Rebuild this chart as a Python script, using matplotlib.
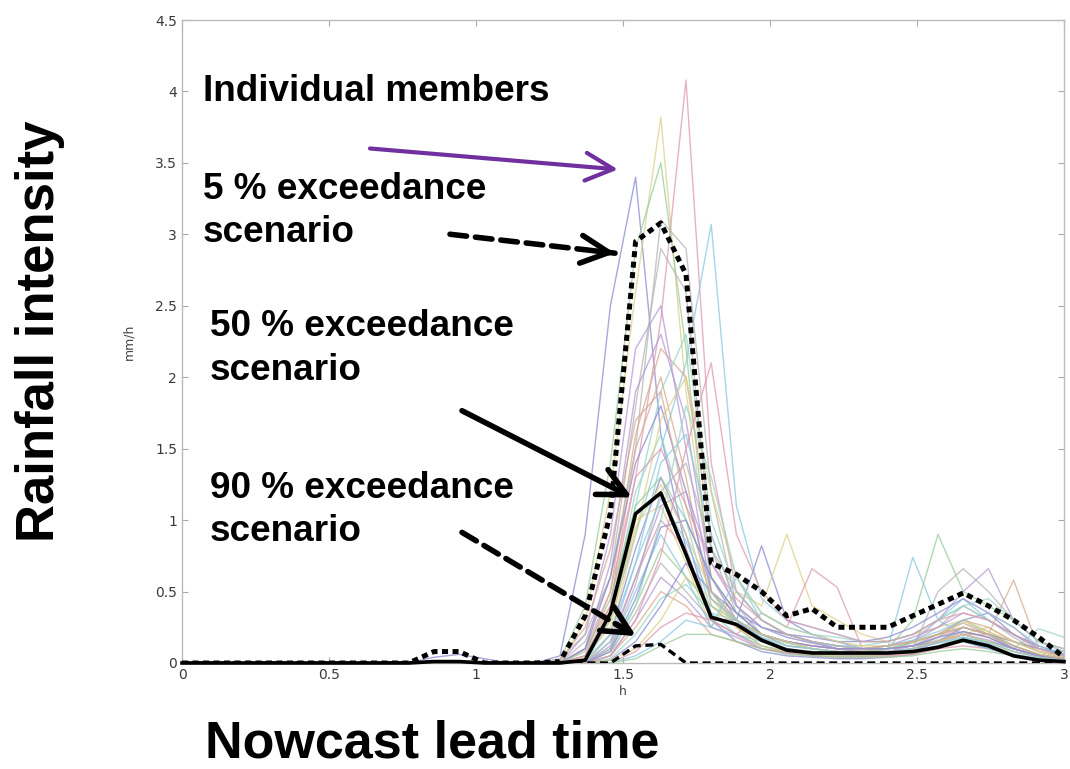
import numpy as np
import matplotlib
matplotlib.use("Agg")
import matplotlib.pyplot as plt

# ---------------- data ----------------
lead_time_h = np.linspace(0, 3, 36)          # 36 nowcast steps over 3 h

# values before the rain event (steps 0..13) are zero for most members
zeros_early = [0.0] * 14

# individual ensemble members, steps 14..35
members_late = [
    [0, .05, .9, 2.5, 3.40, 1.6, .8, .3, .15, .08, .05, .04, .03, .03, .04, .06, .1, .15, .1, .05, .02, .01],
    [0, 0, .3, 1.2, 2.6, 3.82, 1.9, .6, .3, .15, .1, .08, .06, .05, .05, .08, .12, .2, .25, .15, .08, .05],
    [0, 0, .1, .5, 1.3, 2.4, 4.08, 1.4, .5, .3, .2, .15, .1, .1, .12, .15, .2, .3, .35, .25, .1, .05],
    [0, 0, .05, .3, .9, 1.5, 2.1, 3.07, 1.1, .45, .3, .25, .2, .15, .15, .2, .3, .45, .3, .2, .1, .08],
    [0, .02, .4, 1.4, 2.9, 3.5, 2.2, .5, .25, .12, .08, .06, .05, .05, .06, .1, .18, .3, .22, .12, .06, .03],
    [0, 0, .15, .6, 1.8, 2.9, 2.6, .8, .35, .2, .12, .1, .08, .08, .1, .15, .25, .4, .3, .18, .08, .04],
    [0, 0, .2, .9, 2.2, 2.5, 1.5, .5, .3, .2, .15, .12, .1, .08, .08, .12, .2, .28, .2, .1, .05, .02],
    [0, 0, .1, .4, 1.5, 2.0, 1.3, .4, .25, .15, .1, .08, .07, .06, .07, .1, .15, .22, .18, .1, .05, .02],
    [0, 0, .05, .35, 1.2, 1.6, 1.0, .35, .3, .18, .1, .07, .06, .06, .06, .08, .12, .18, .14, .08, .04, .02],
    [0, 0, 0, .2, .8, 1.3, .9, .3, .3, .82, .3, .2, .15, .1, .1, .12, .15, .2, .15, .1, .05, .03],
    [0, 0, .05, .25, 1.0, 1.1, .7, .25, .5, .4, .9, .4, .3, .2, .15, .2, .25, .3, .2, .15, .1, .05],
    [0, 0, 0, .15, .6, 1.0, .8, .3, .2, .35, .25, .66, .53, .1, .08, .1, .15, .2, .15, .1, .05, .02],
    [0, 0, 0, .1, .5, .9, .6, .25, .2, .15, .1, .08, .06, .05, .1, .74, .3, .2, .15, .1, .05, .03],
    [0, 0, 0, .1, .4, .8, .6, .4, .3, .2, .15, .1, .08, .08, .1, .3, .9, .5, .4, .3, .15, .1],
    [0, 0, 0, .08, .35, .7, .5, .3, .2, .12, .08, .06, .05, .05, .06, .1, .5, .66, .5, .3, .15, .1],
    [0, 0, 0, .05, .3, .6, .45, .25, .18, .1, .07, .05, .05, .05, .07, .15, .3, .5, .66, .3, .15, .08],
    [0, 0, 0, .05, .25, .5, .4, .2, .15, .1, .08, .06, .05, .05, .06, .1, .15, .2, .2, .58, .1, .05],
    [0, 0, 0, .03, .2, .45, .55, .35, .2, .12, .08, .06, .05, .05, .05, .08, .12, .18, .15, .1, .24, .18],
    [0, 0, 0, .02, .15, .4, .7, .5, .3, .15, .1, .07, .06, .05, .06, .08, .15, .25, .2, .15, .1, .06],
    [0, 0, 0, .02, .1, .3, .6, .45, .25, .12, .08, .06, .05, .05, .05, .07, .1, .15, .12, .08, .05, .02],
    [0, 0, 0, 0, .08, .25, .35, .3, .2, .1, .07, .05, .04, .04, .05, .06, .1, .12, .1, .06, .03, .01],
    [0, 0, 0, 0, .05, .15, .3, .25, .6, .3, .2, .15, .1, .08, .06, .08, .12, .15, .1, .06, .03, .01],
    [0, 0, 0, 0, .03, .12, .2, .2, .15, .1, .06, .05, .04, .04, .04, .05, .08, .1, .08, .05, .03, .01],
    [0, .03, .2, .6, 1.5, 3.1, 2.9, 1.2, .4, .2, .12, .1, .08, .06, .07, .1, .15, .25, .2, .1, .05, .02],
    [0, 0, .1, .7, 1.9, 2.3, 1.7, .6, .3, .2, .15, .12, .1, .1, .12, .18, .25, .35, .3, .2, .1, .05],
    [0, 0, .05, .5, 1.6, 2.2, 2.0, .9, .4, .25, .2, .15, .12, .1, .12, .15, .2, .3, .25, .15, .08, .04],
    [0, 0, 0, .3, 1.1, 1.9, 2.3, 1.0, .5, .3, .2, .15, .12, .12, .15, .2, .3, .4, .3, .2, .1, .05],
    [0, 0, .1, .6, 1.4, 1.8, 1.2, .5, .35, .25, .2, .18, .15, .15, .18, .25, .35, .45, .35, .2, .12, .06],
    [0, 0, 0, .2, .9, 1.7, 2.0, 1.2, .6, .35, .25, .2, .15, .12, .12, .15, .2, .28, .22, .15, .08, .04],
    [0, 0, .05, .4, 1.3, 1.5, 1.1, .7, .45, .3, .2, .15, .12, .1, .1, .12, .18, .25, .2, .12, .06, .03],
    [0, 0, 0, .15, .7, 1.4, 1.6, .9, .4, .25, .18, .14, .12, .1, .12, .16, .22, .3, .35, .25, .12, .06],
    [0, 0, .08, .45, 1.1, 1.3, 1.0, .6, .35, .2, .14, .1, .08, .08, .1, .14, .2, .25, .2, .12, .06, .03],
    [0, 0, 0, .1, .55, 1.2, 1.4, .8, .5, .3, .2, .15, .12, .1, .1, .12, .16, .22, .18, .1, .05, .02],
    [0, 0, 0, .12, .6, 1.1, 1.2, .7, .4, .25, .18, .14, .1, .08, .08, .1, .14, .2, .16, .1, .05, .02],
    [0, .02, .25, .8, 1.7, 1.9, 1.1, .45, .3, .2, .15, .12, .1, .1, .12, .15, .2, .25, .2, .12, .06, .03],
    [0, 0, 0, .05, .4, 1.0, 1.8, 1.3, .6, .35, .25, .2, .18, .15, .15, .2, .3, .4, .45, .3, .15, .08],
    [0, 0, 0, .08, .45, .95, 1.0, .6, .35, .2, .15, .12, .1, .1, .1, .12, .18, .22, .18, .1, .05, .02],
    [0, 0, .03, .3, .95, 1.25, .9, .5, .3, .2, .15, .1, .08, .08, .08, .1, .15, .2, .15, .08, .04, .02],
    [0, 0, 0, .05, .3, .75, 1.5, 2.1, .9, .5, .3, .25, .2, .15, .15, .2, .3, .35, .3, .2, .1, .05],
    [0, 0, .02, .2, .7, 1.15, .85, .45, .3, .18, .12, .1, .08, .07, .08, .1, .14, .18, .14, .08, .04, .02],
]
# one member with a small early shower near 0.9 h (steps 0..13)
early_shower_member = [0, 0, 0, 0, 0, 0, 0, 0, 0, 0, .04, .06, .03, 0]

exceed_05 = [0, 0, 0, 0, 0, 0, 0, 0, 0, 0, .08, .08, 0, 0, 0, .01, .33, 1.05, 2.95, 3.08,
             2.72, .7, .62, .5, .33, .38, .25, .25, .25, .33, .41, .49, .4, .3, .18, .04]
exceed_50 = [0, 0, 0, 0, 0, 0, 0, 0, 0, 0, .01, .01, 0, 0, 0, 0, .02, .35, 1.045, 1.19,
             .76, .32, .27, .16, .09, .07, .07, .07, .07, .08, .11, .16, .12, .05, .02, .01]
exceed_90 = [0, 0, 0, 0, 0, 0, 0, 0, 0, 0, 0, 0, 0, 0, 0, 0, 0, 0, .12, .13,
             0, 0, 0, 0, 0, 0, 0, 0, 0, 0, 0, 0, 0, 0, 0, 0]

x_ticks = [0, 0.5, 1, 1.5, 2, 2.5, 3]
x_tick_labels = ["0", "0.5", "1", "1.5", "2", "2.5", "3"]
y_ticks = [0, 0.5, 1, 1.5, 2, 2.5, 3, 3.5, 4, 4.5]
y_tick_labels = ["0", "0.5", "1", "1.5", "2", "2.5", "3", "3.5", "4", "4.5"]

member_colors = ['#8a8ad0', '#dcd088', '#e098b0', '#88c8e0', '#98cc98',
                 '#b4b4b4', '#b498d4', '#d8a890', '#98d4c8']

# ---------------- figure ----------------
W, H = 1070, 769
fig = plt.figure(figsize=(W / 100, H / 100), dpi=100)
ax = fig.add_axes([182 / W, 106 / H, 882 / W, 643 / H])

for i, late in enumerate(members_late):
    early = early_shower_member if i == 9 else zeros_early
    ax.plot(lead_time_h, early + late, color=member_colors[i % len(member_colors)],
            lw=1.0, alpha=0.75, zorder=2)

ax.plot(lead_time_h, exceed_90, color='k', lw=2.4, linestyle=(0, (2.4, 1.4)), zorder=4)
ax.plot(lead_time_h, exceed_50, color='k', lw=2.6, zorder=5, clip_on=False)
ax.plot(lead_time_h, exceed_05, color='k', lw=3.6, linestyle=(0, (1.2, 0.9)), zorder=6)

ax.set_xlim(0, 3)
ax.set_ylim(0, 4.5)
ax.set_xticks(x_ticks)
ax.set_xticklabels(x_tick_labels)
ax.set_yticks(y_ticks)
ax.set_yticklabels(y_tick_labels)
ax.tick_params(direction='in', length=4, color='#aaaaaa', labelcolor='#3a3a3a',
               labelsize=10, top=True, right=True)
for sp in ax.spines.values():
    sp.set_color('#bbbbbb')
    sp.set_linewidth(1.0)
ax.set_xlabel('h', fontsize=9, color='#444444', labelpad=2)
ax.set_ylabel('mm/h', fontsize=9, color='#444444', labelpad=14)

font = 'Liberation Sans'
txt_kw = dict(fontsize=26.6, fontweight='bold', family=font, color='black',
              va='baseline', ha='left', linespacing=1.32, zorder=10)


def px2d(px, py):
    return ((px - 182) / 294.0, (663 - py) / 143.3)


# positions given as the baseline of the last text line
ax.text(*px2d(203, 99), 'Individual members', **txt_kw)
ax.text(*px2d(203, 241), '5 % exceedance\nscenario', **txt_kw)
ax.text(*px2d(210, 379), '50 % exceedance\nscenario', **txt_kw)
ax.text(*px2d(210, 541), '90 % exceedance\nscenario', **txt_kw)

head = '->,head_length=1.0,head_width=0.5'


def arrow(tail, tip, color, lw, dashed=False):
    t = np.array(px2d(*tail))
    p = np.array(px2d(*tip))
    if dashed:
        ax.annotate('', xy=p, xytext=t, zorder=9,
                    arrowprops=dict(arrowstyle='-', lw=lw, color=color,
                                    linestyle=(0, (3.0, 1.6)), shrinkA=0, shrinkB=0))
        ax.annotate('', xy=p, xytext=p + (t - p) * 0.12, zorder=9,
                    arrowprops=dict(arrowstyle=head, lw=lw, color=color,
                                    mutation_scale=20, shrinkA=0, shrinkB=0))
    else:
        ax.annotate('', xy=p, xytext=t, zorder=9,
                    arrowprops=dict(arrowstyle=head, lw=lw, color=color,
                                    mutation_scale=20, shrinkA=0, shrinkB=0))


arrow((370, 147), (618, 168), '#7030a0', 3.0)
arrow((450, 233), (615, 252), 'black', 4.0, dashed=True)
arrow((462, 410), (632, 497), 'black', 4.0)
arrow((462, 532), (636, 636), 'black', 4.0, dashed=True)

fig.text(40 / W, 1 - 331 / H, 'Rainfall intensity', rotation=90, fontsize=38,
         fontweight='bold', family=font, ha='center', va='center')
fig.text(205 / W, 1 - 758 / H, 'Nowcast lead time', fontsize=37.5,
         fontweight='bold', family=font, ha='left', va='baseline')

fig.savefig('out.png', dpi=100)
